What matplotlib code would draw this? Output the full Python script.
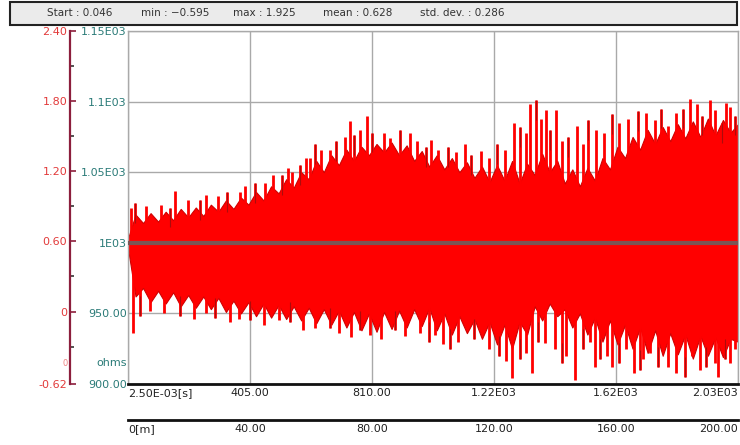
import numpy as np
import matplotlib
matplotlib.use("Agg")
import matplotlib.pyplot as plt
from matplotlib.patches import Rectangle

# resistance trace, sampled envelope (seconds, ohms)
time_s = np.arange(0, 2026, 25)
upper_ohm = [1003, 1020, 1014, 1021, 1015, 1022, 1016, 1024, 1018, 1025, 1019, 1027,
             1022, 1030, 1024, 1032, 1027, 1036, 1030, 1040, 1035, 1045, 1039, 1050,
             1045, 1058, 1050, 1062, 1055, 1066, 1058, 1068, 1062, 1070, 1064, 1071,
             1062, 1069, 1058, 1065, 1054, 1062, 1052, 1060, 1050, 1057, 1046, 1054,
             1043, 1055, 1044, 1058, 1042, 1056, 1048, 1063, 1050, 1058, 1042, 1052,
             1040, 1053, 1044, 1060, 1052, 1068, 1060, 1075, 1066, 1080, 1070, 1082,
             1072, 1084, 1074, 1086, 1075, 1088, 1076, 1087, 1078, 1084]
lower_ohm = [996, 962, 968, 958, 966, 957, 965, 955, 963, 954, 962, 953,
             961, 951, 959, 950, 958, 948, 957, 947, 956, 946, 955, 945,
             954, 943, 953, 942, 952, 940, 951, 938, 950, 937, 951, 939,
             952, 940, 953, 941, 954, 938, 950, 935, 948, 936, 946, 932,
             944, 928, 942, 925, 944, 935, 955, 945, 957, 948, 953, 940,
             950, 935, 947, 930, 945, 928, 942, 925, 940, 922, 938, 920,
             936, 921, 935, 918, 934, 920, 933, 919, 932, 930]

# isolated peaks above and below the band
peak_hi_t = [10, 23, 60, 110, 140, 156, 200, 240, 260, 300, 330, 372, 390, 420, 455,
             480, 511, 530, 545, 571, 590, 604, 621, 640, 671, 690, 720, 737, 750, 770,
             794, 810, 850, 870, 903, 936, 960, 990, 1006, 1030, 1062, 1090, 1119, 1140,
             1172, 1200, 1225, 1250, 1280, 1301, 1320, 1335, 1355, 1370, 1388, 1400,
             1421, 1441, 1460, 1490, 1510, 1527, 1554, 1580, 1607, 1630, 1660, 1693,
             1720, 1750, 1770, 1793, 1820, 1843, 1866, 1890, 1906, 1932, 1950, 1972,
             1985, 1999, 2015]
peak_hi = [1025, 1028, 1026, 1027, 1025, 1037, 1030, 1030, 1034, 1033, 1036, 1036, 1040,
           1042, 1042, 1048, 1048, 1053, 1050, 1055, 1060, 1060, 1070, 1066, 1066, 1072,
           1075, 1086, 1076, 1080, 1090, 1078, 1078, 1074, 1080, 1078, 1072, 1068, 1073,
           1066, 1068, 1064, 1070, 1062, 1065, 1060, 1070, 1066, 1085, 1082, 1078, 1098,
           1101, 1088, 1094, 1080, 1094, 1072, 1075, 1083, 1070, 1087, 1080, 1078, 1091,
           1085, 1088, 1093, 1092, 1087, 1095, 1083, 1092, 1095, 1102, 1098, 1090, 1101,
           1094, 1085, 1099, 1096, 1090]
peak_lo_t = [17, 40, 73, 120, 173, 220, 260, 289, 340, 370, 405, 450, 500, 538, 580,
             620, 671, 700, 740, 770, 803, 840, 886, 920, 969, 1000, 1020, 1046, 1070,
             1096, 1129, 1150, 1169, 1200, 1230, 1255, 1275, 1301, 1320, 1341, 1360,
             1384, 1418, 1440, 1454, 1484, 1510, 1534, 1550, 1567, 1590, 1607, 1630,
             1653, 1680, 1700, 1710, 1733, 1760, 1793, 1820, 1849, 1872, 1899, 1920,
             1949, 1960, 1982, 2000, 2015]
peak_lo = [936, 948, 952, 950, 948, 946, 950, 947, 944, 946, 945, 942, 945, 944, 938,
           940, 940, 936, 933, 938, 935, 932, 938, 934, 936, 930, 935, 928, 925,
           930, 941, 932, 938, 925, 920, 916, 904, 918, 922, 908, 930,
           929, 925, 915, 920, 903, 925, 930, 912, 918, 920, 912, 915,
           925, 908, 910, 918, 922, 912, 912, 908, 905, 920, 910, 912,
           915, 905, 918, 915, 925]

time_ticks = [0, 405, 810, 1215, 1620, 2025]
time_labels = ["2.50E-03[s]", "405.00", "810.00", "1.22E03", "1.62E03", "2.03E03"]
dist_ticks = [0, 40, 80, 120, 160, 200]
dist_labels = ["0[m]", "40.00", "80.00", "120.00", "160.00", "200.00"]
ohm_ticks = [900, 950, 1000, 1050, 1100, 1150]
ohm_labels = ["900.00", "950.00", "1E03", "1.05E03", "1.1E03", "1.15E03"]
red_ticks = [-0.62, 0, 0.6, 1.2, 1.8, 2.4]
red_labels = ["-0.62", "0", "0.60", "1.20", "1.80", "2.40"]
red_minor = [-0.3, 0.3, 0.9, 1.5, 2.1]
stats = [("Start : 0.046", 47), ("min : \u22120.595", 141), ("max : 1.925", 233),
         ("mean : 0.628", 323), ("std. dev. : 0.286", 420)]

W, H = 740, 445
TEAL = "#2b7b78"
RED_TXT = "#e23a3a"
GRID = "#a9a9a9"

fig = plt.figure(figsize=(W / 100, H / 100), dpi=100)

# main plotting area
ax = fig.add_axes([128 / W, 61 / H, 610 / W, 353 / H])
ax.set_xlim(0, 2025)
ax.set_ylim(900, 1150)
ax.fill_between(time_s, lower_ohm, upper_ohm, color="#ff0000", lw=0.8,
                edgecolor="#d00000", zorder=2)
ax.vlines(peak_hi_t, 1000, peak_hi, color="#ff0000", lw=2.0, zorder=2)
ax.vlines(peak_lo_t, peak_lo, 1000, color="#ff0000", lw=2.0, zorder=2)
# darker tips on some of the peaks
hi_tip_t = peak_hi_t[1::3]
hi_tip = np.array(peak_hi[1::3])
lo_tip_t = peak_lo_t[1::3]
lo_tip = np.array(peak_lo[1::3])
ax.vlines(hi_tip_t, hi_tip - 14, hi_tip, color="#8a1010", lw=0.8, alpha=0.7, zorder=3)
ax.vlines(lo_tip_t, lo_tip, lo_tip + 14, color="#8a1010", lw=0.8, alpha=0.7, zorder=3)
ax.axhline(1000, color="#7a5656", lw=3, zorder=4)

ax.set_xticks(time_ticks)
ax.set_xticklabels(time_labels, fontsize=8, color="#222222")
xl = ax.get_xticklabels()
xl[0].set_ha("left")
xl[-1].set_ha("right")
ax.set_yticks(ohm_ticks)
ax.set_yticklabels(ohm_labels, fontsize=8, color=TEAL)
ax.tick_params(axis="both", length=0)
ax.tick_params(axis="x", pad=3)
ax.tick_params(axis="y", pad=1)
ax.grid(True, color=GRID, lw=1, zorder=1)
ax.set_axisbelow(True)
for side in ("top", "right", "left"):
    ax.spines[side].set_color(GRID)
    ax.spines[side].set_linewidth(1)
ax.spines["bottom"].set_color("#111111")
ax.spines["bottom"].set_linewidth(2)

# distance axis underneath
ax_m = fig.add_axes([128 / W, 25 / H, 610 / W, 0.0001])
ax_m.set_xlim(0, 200)
ax_m.set_yticks([])
ax_m.set_xticks(dist_ticks)
ax_m.set_xticklabels(dist_labels, fontsize=8, color="#222222")
ml = ax_m.get_xticklabels()
ml[0].set_ha("left")
ml[-1].set_ha("right")
ax_m.tick_params(axis="x", length=0, pad=3)
for side in ("top", "right", "left"):
    ax_m.spines[side].set_visible(False)
ax_m.spines["bottom"].set_color("#111111")
ax_m.spines["bottom"].set_linewidth(2)
ax_m.patch.set_alpha(0)

# secondary red scale on the far left
ax_r = fig.add_axes([70 / W, 61 / H, 0.0001, 353 / H])
ax_r.set_ylim(-0.62, 2.40)
ax_r.set_xticks([])
ax_r.set_yticks(red_ticks)
ax_r.set_yticklabels(red_labels, fontsize=8, color=RED_TXT)
ax_r.set_yticks(red_minor, minor=True)
ax_r.tick_params(axis="y", which="major", direction="in", length=4,
                 color="#8c1e3c", width=1.2, pad=2)
ax_r.tick_params(axis="y", which="minor", direction="in", length=3,
                 color="#333333", width=1.2)
for side in ("top", "right", "bottom"):
    ax_r.spines[side].set_visible(False)
ax_r.spines["left"].set_color("#8c1e3c")
ax_r.spines["left"].set_linewidth(1.6)
ax_r.patch.set_alpha(0)

fig.text(68 / W, 1 - 364 / H, "0", fontsize=6, color="#f08080", ha="right", va="center")
fig.text(127 / W, 1 - 363 / H, "ohms", fontsize=8, color=TEAL, ha="right", va="center")

# statistics header
fig.add_artist(Rectangle((10 / W, 1 - 25 / H), 727 / W, 23 / H, transform=fig.transFigure,
                         facecolor="#ebebeb", edgecolor="#222222", lw=1.5))
for label, x in stats:
    fig.text(x / W, 1 - 13.5 / H, label, fontsize=7.5, color="#333333", va="center")

fig.savefig("out.png", dpi=100)
